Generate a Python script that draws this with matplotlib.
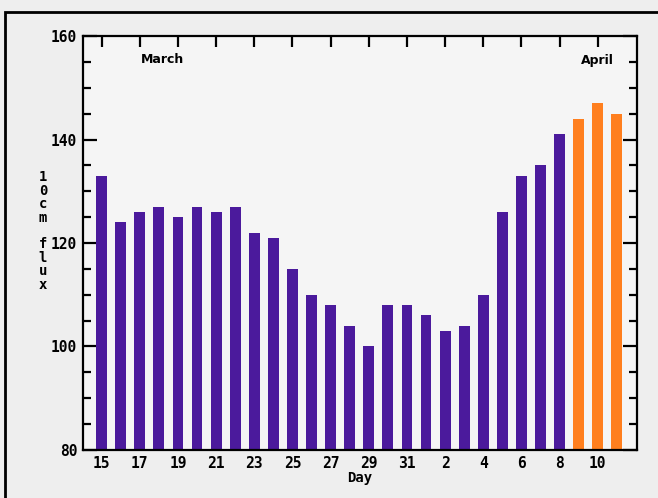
import numpy as np
import matplotlib.pyplot as plt
from matplotlib.patches import Rectangle

# 10cm solar flux, 15 March - 11 April
days = [15, 16, 17, 18, 19, 20, 21, 22, 23, 24, 25, 26, 27, 28, 29, 30, 31,
        1, 2, 3, 4, 5, 6, 7, 8, 9, 10, 11]
flux = [133, 124, 126, 127, 125, 127, 126, 127, 122, 121, 115, 110, 108, 104, 100, 108, 108,
        106, 103, 104, 110, 126, 133, 135, 141, 144, 147, 145]
predicted = [False] * 25 + [True] * 3

purple = '#4b1a9c'
orange = '#ff7f1e'

fig = plt.figure(figsize=(6.58, 4.98), dpi=100)
fig.patch.set_facecolor('#eeeeee')
ax = fig.add_axes([0.126, 0.0964, 0.842, 0.8313])
ax.set_facecolor('#f5f5f5')

x = np.arange(len(days))
colors = [orange if p else purple for p in predicted]
ax.bar(x, np.array(flux) - 80, bottom=80, width=0.57, color=colors, zorder=2)

ax.set_xlim(-0.98, 28.05)
ax.set_ylim(80, 160)

tick_font = dict(family='DejaVu Sans Mono', size=10.5, weight='bold')
ax.set_xticks(x[::2])
ax.set_xticklabels([str(d) for d in days[::2]], fontdict=tick_font)
ax.set_yticks([80, 100, 120, 140, 160])
ax.set_yticklabels(['80', '100', '120', '140', '160'], fontdict=tick_font)
ax.set_yticks(np.arange(80, 161, 5), minor=True)
ax.tick_params(axis='y', which='major', direction='in', length=10, width=1.6,
               right=True, pad=4)
ax.tick_params(axis='y', which='minor', direction='in', length=6, width=1.6, right=True)
ax.tick_params(axis='x', which='major', direction='in', length=8, width=1.6,
               top=True, bottom=False, pad=4)
for s in ax.spines.values():
    s.set_linewidth(1.6)

ax.text(3.2, 155.5, 'March', fontsize=9, fontweight='bold', ha='center', va='center')
ax.text(26.0, 155.3, 'April', fontsize=9, fontweight='bold', ha='center', va='center')

ax.set_xlabel('Day', fontdict=dict(family='DejaVu Sans Mono', size=10, weight='bold'),
              labelpad=0)
fig.text(43 / 658, 1 - 231 / 498, '\n'.join('10cm flux'), family='DejaVu Sans Mono',
         fontsize=10, fontweight='bold', ha='center', va='center', linespacing=0.95)

# outer frame of the figure box
fig.patches.append(Rectangle((5 / 658, -0.1), 1.2, 1 - 12 / 498 + 0.1,
                             transform=fig.transFigure, fill=False,
                             edgecolor='black', linewidth=2))

fig.savefig('out.png', dpi=100, facecolor=fig.get_facecolor())
